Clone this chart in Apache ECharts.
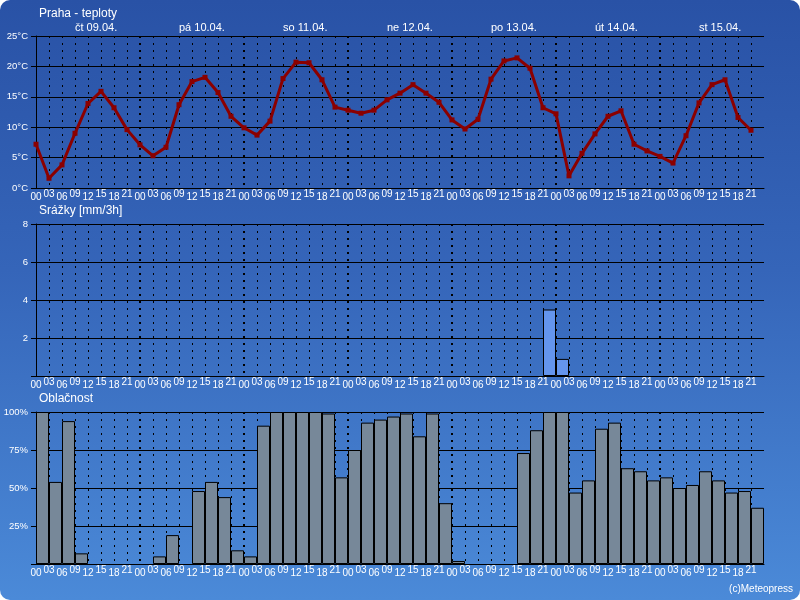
<!DOCTYPE html>
<html>
<head>
<meta charset="utf-8">
<script src="https://cdn.jsdelivr.net/npm/echarts@6/dist/echarts.min.js"></script>
<style>
  html, body { margin: 0; padding: 0; background: #ffffff; }
  #wrap { width: 800px; height: 600px; border-radius: 10px; overflow: hidden;
          background: linear-gradient(to bottom, #2952a6 0%, #3565b9 45%, #4b8ad8 100%); }
  #chart { width: 800px; height: 600px; }
</style>
</head>
<body>
<div id="wrap"><div id="chart"></div></div>
<script>
const hourLabels = ['00', '03', '06', '09', '12', '15', '18', '21'];
const dayLabels = ['čt 09.04.', 'pá 10.04.', 'so 11.04.', 'ne 12.04.', 'po 13.04.', 'út 14.04.', 'st 15.04.'];

const temperature = [
  7.2, 1.6, 3.8, 9.0, 13.9, 15.9, 13.2, 9.6,
  7.1, 5.3, 6.7, 13.7, 17.5, 18.2, 15.7, 11.8,
  9.9, 8.7, 11.0, 18.0, 20.7, 20.6, 17.8, 13.3,
  12.8, 12.3, 12.8, 14.5, 15.6, 17.0, 15.6, 14.1,
  11.2, 9.7, 11.3, 17.9, 20.9, 21.4, 19.7, 13.2,
  12.2, 2.0, 5.7, 8.9, 11.8, 12.7, 7.2, 6.1,
  5.2, 4.1, 8.6, 14.0, 17.0, 17.8, 11.6, 9.5
];

const precipitation = [
  0, 0, 0, 0, 0, 0, 0, 0,
  0, 0, 0, 0, 0, 0, 0, 0,
  0, 0, 0, 0, 0, 0, 0, 0,
  0, 0, 0, 0, 0, 0, 0, 0,
  0, 0, 0, 0, 0, 0, 0, 3.5,
  0.9, 0, 0, 0, 0, 0, 0, 0,
  0, 0, 0, 0, 0, 0, 0, 0
];

const cloudiness = [
  100, 54, 94, 7, 0, 0, 0, 0,
  0, 5, 19, 0, 48, 54, 44, 9,
  5, 91, 100, 100, 100, 100, 99, 57,
  75, 93, 95, 97, 99, 84, 99, 40,
  2, 0, 0, 0, 0, 73, 88, 100,
  100, 47, 55, 89, 93, 63, 61, 55,
  57, 50, 52, 61, 55, 47, 48, 37
];

const FONT = "'Liberation Sans', Arial, sans-serif";
const nSteps = temperature.length; // 56 three-hour steps

const gridTops = [36, 224, 412];
const gridH = 152;

function hourAxis(gi) {
  return {
    type: 'value', gridIndex: gi, min: 0, max: nSteps, interval: 1,
    axisLine: { show: true, onZero: false, lineStyle: { color: '#000', width: 1 } },
    axisTick: { show: false },
    axisLabel: {
      show: true, margin: 1, color: '#fff', fontFamily: FONT, fontSize: 10,
      formatter: function (v) {
        if (v >= nSteps) return '';
        const h = hourLabels[v % 8];
        return (v % 2 === 1) ? '{hi|' + h + '}' : '{lo|' + h + '}';
      },
      rich: {
        hi: { color: '#fff', fontFamily: FONT, fontSize: 10, padding: [0, 0, 3, 0] },
        lo: { color: '#fff', fontFamily: FONT, fontSize: 10, padding: [3, 0, 0, 0] }
      }
    },
    splitLine: { show: true, showMinLine: false, showMaxLine: false,
      lineStyle: { color: '#000', width: 1, type: [2, 5] } }
  };
}
function dayAxis(gi) {
  return {
    type: 'value', gridIndex: gi, min: 0, max: nSteps, interval: 8,
    axisLine: { show: false }, axisTick: { show: false }, axisLabel: { show: false },
    splitLine: { show: true, showMinLine: false, showMaxLine: false,
      lineStyle: { color: '#000', width: 2, type: [2, 5] } }
  };
}
function yAxis(gi, max, interval, fmt) {
  return {
    type: 'value', gridIndex: gi, min: 0, max: max, interval: interval,
    axisLine: { show: true, lineStyle: { color: '#000', width: 1 } },
    axisTick: { show: true, length: 5, lineStyle: { color: '#000' } },
    axisLabel: { color: '#fff', fontFamily: FONT, fontSize: 9.5, margin: 8, formatter: fmt },
    splitLine: { show: true, lineStyle: { color: '#000', width: 1 } }
  };
}

const option = {
  backgroundColor: 'transparent',
  animation: false,
  title: [
    { text: 'Praha - teploty', left: 39, top: 8, padding: 0,
      textStyle: { color: '#fff', fontFamily: FONT, fontSize: 12, fontWeight: 'normal' } },
    { text: 'Srážky [mm/3h]', left: 39, top: 205, padding: 0,
      textStyle: { color: '#fff', fontFamily: FONT, fontSize: 12, fontWeight: 'normal' } },
    { text: 'Oblačnost', left: 39, top: 393, padding: 0,
      textStyle: { color: '#fff', fontFamily: FONT, fontSize: 12, fontWeight: 'normal' } },
    { text: '(c)Meteopress', right: 7, top: 584, padding: 0,
      textStyle: { color: '#fff', fontFamily: FONT, fontSize: 10, fontWeight: 'normal' } }
  ],
  grid: gridTops.map(t => ({ left: 36, right: 36, top: t, height: gridH, containLabel: false })),
  xAxis: [
    hourAxis(0), dayAxis(0),
    {
      type: 'value', gridIndex: 0, position: 'top', min: -3, max: nSteps - 3, interval: 1,
      axisLine: { show: false }, axisTick: { show: false }, splitLine: { show: false },
      axisLabel: {
        show: true, margin: 3, align: 'left', color: '#fff', fontFamily: FONT, fontSize: 11,
        formatter: function (v) {
          if (v >= 0 && v % 8 === 0 && v / 8 < dayLabels.length) return dayLabels[v / 8];
          return '';
        }
      }
    },
    hourAxis(1), dayAxis(1),
    hourAxis(2), dayAxis(2)
  ],
  yAxis: [
    yAxis(0, 25, 5, v => v + '°C'),
    yAxis(1, 8, 2, v => v === 0 ? '' : String(v)),
    yAxis(2, 100, 25, v => v === 0 ? '' : v + '%')
  ],
  series: [
    {
      type: 'line', xAxisIndex: 0, yAxisIndex: 0,
      data: temperature.map((t, i) => [i, t]),
      lineStyle: { color: '#8b0000', width: 3 },
      itemStyle: { color: '#8b0000' },
      symbol: 'rect', symbolSize: 5, showSymbol: true, z: 5
    },
    {
      type: 'bar', xAxisIndex: 3, yAxisIndex: 1, barWidth: 13,
      data: precipitation.map((p, i) => [i + 0.5, p > 0 ? p : null]),
      itemStyle: { color: '#6495ed', borderColor: '#000', borderWidth: 1 }, z: 5
    },
    {
      type: 'bar', xAxisIndex: 5, yAxisIndex: 2, barWidth: 13,
      data: cloudiness.map((c, i) => [i + 0.5, c > 0 ? c : null]),
      itemStyle: { color: '#778899', borderColor: '#000', borderWidth: 1 }, z: 5
    }
  ]
};

const chart = echarts.init(document.getElementById('chart'), null, { renderer: 'canvas' });
chart.setOption(option);
</script>
</body>
</html>
